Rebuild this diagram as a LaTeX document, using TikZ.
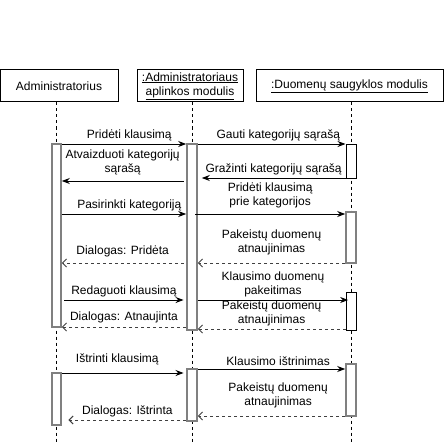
\documentclass[tikz,border=0pt]{standalone}
\usepackage{fontspec}
\setmainfont{Liberation Sans}
\usetikzlibrary{fit,positioning,arrows.meta}

\begin{document}
\begin{tikzpicture}[x=1.5pt,y=-1.5pt,font=\fontsize{18}{21}\selectfont,
    head/.style={draw,line width=1.5pt,minimum height=48pt,inner sep=2pt,align=center},
    life/.style={line width=1.5pt,dash pattern=on 4.5pt off 4.5pt},
    bar/.style={draw=black!50,line width=2.4pt,fill=white,inner sep=0pt},
    thinbar/.style={draw=black,line width=1.5pt,fill=white,inner sep=0pt},
    msg/.style={-{Stealth[length=12pt,width=9pt]},line width=1.5pt},
    ret/.style={draw=black!75,line width=1.5pt,dash pattern=on 4.5pt off 4.5pt,-{Straight Barb[length=6pt,width=12pt]}},
    lbl/.style={above,align=center,text=black,inner sep=4pt}]
  \useasboundingbox (0,0) rectangle (444,442);

  % lifeline heads
  \node[head,minimum width=177pt] (adm) at (59,86) {Administratorius};
  \node[head,minimum width=159pt] (amod) at (190,86) {\underline{:Administratoriaus}\\\underline{aplinkos modulis}};
  \node[head,minimum width=280.5pt] (dmod) at (349.5,86) {\underline{:Duomenų saugyklos modulis}};

  % message rows
  \coordinate (ra) at (0,144);
  \coordinate (rb) at (0,178);
  \coordinate (rc) at (0,181);
  \coordinate (rd) at (0,214);
  \coordinate (re) at (0,263);
  \coordinate (rf) at (0,300);
  \coordinate (rg) at (0,327);
  \coordinate (rh) at (0,329);
  \coordinate (ri) at (0,369);
  \coordinate (rj) at (0,373);
  \coordinate (rk) at (0,416);
  \coordinate (rl) at (0,420);

  % lifelines
  \draw[life] (adm.south -| 56.5,0) -- (56.5,442);
  \draw[life] (amod.south -| 192,0) -- (192,442);
  \draw[life] (dmod.south -| 351,0) -- (351,442);

  % activations
  \node[bar,fit={(52,144) (61,327)}] (a1) {};
  \node[bar,fit={(52,373) (61,425)}] (a2) {};
  \node[bar,fit={(187,144) (197,330)}] (m1) {};
  \node[bar,fit={(187,369) (197,421)}] (m2) {};
  \node[thinbar,fit={(346,144) (356,178)}] (d1) {};
  \node[bar,fit={(346,212) (356,263)}] (d2) {};
  \node[thinbar,fit={(346,292) (356,330)}] (d3) {};
  \node[bar,fit={(346,364) (356,416)}] (d4) {};

  % adding a question
  \draw[msg] (a1.east |- ra) -- (m1.west |- ra) node[lbl,midway,xshift=8pt] {Pridėti klausimą};
  \draw[msg] (m1.east |- ra) -- (d1.west |- ra) node[lbl,midway,xshift=10pt] {Gauti kategorijų sąrašą};
  \draw[msg] (d1.west |- rb) -- ([xshift=6pt]m1.east |- rb) node[lbl,midway] {Gražinti kategorijų sąrašą};
  \draw[msg] ([xshift=-4pt]m1.west |- rc) -- (a1.east |- rc) node[lbl,midway,yshift=4pt] {Atvaizduoti kategorijų\\sąrašą};
  \draw[msg] (a1.east |- rd) -- (m1.west |- rd) node[lbl,midway,xshift=8pt] {Pasirinkti kategoriją};
  \draw[msg] ([xshift=-4pt]m1.east |- rd) -- (d2.west |- rd) node[lbl,midway,yshift=4pt] {Pridėti klausimą\\prie kategorijos};
  \draw[ret] ([xshift=-4pt]m1.west |- re) -- (a1.east |- re) node[lbl,midway,yshift=4pt] {Dialogas: Pridėta};
  \draw[ret] (d2.west |- re) -- (m1.east |- re) node[lbl,midway,yshift=8pt] {Pakeistų duomenų\\atnaujinimas};

  % editing a question
  \draw[msg] ([xshift=4pt]a1.east |- rf) -- ([xshift=-4pt]m1.west |- rf) node[lbl,midway] {Redaguoti klausimą};
  \draw[msg] (m1.east |- rf) -- ([xshift=4pt]d3.west |- rf) node[lbl,midway] {Klausimo duomenų\\pakeitimas};
  \draw[ret] (m1.west |- rg) -- (a1.east |- rg) node[lbl,midway,yshift=2pt] {Dialogas: Atnaujinta};
  \draw[ret] (d3.west |- rh) -- (m1.east |- rh) node[lbl,midway] {Pakeistų duomenų\\atnaujinimas};

  % deleting a question
  \draw[msg] (a2.east |- rj) -- ([xshift=-4pt]m2.west |- rj) node[lbl,midway,yshift=8pt,xshift=-8pt] {Ištrinti klausimą};
  \draw[msg] (m2.east |- ri) -- (d4.west |- ri) node[lbl,midway,xshift=10pt] {Klausimo ištrinimas};
  \draw[ret] (d4.west |- rk) -- (m2.east |- rk) node[lbl,midway,yshift=8pt,xshift=10pt] {Pakeistų duomenų\\atnaujinimas};
  \draw[ret] (m2.west |- rl) -- ([xshift=10pt]a2.east |- rl) node[lbl,midway] {Dialogas: Ištrinta};
\end{tikzpicture}
\end{document}
